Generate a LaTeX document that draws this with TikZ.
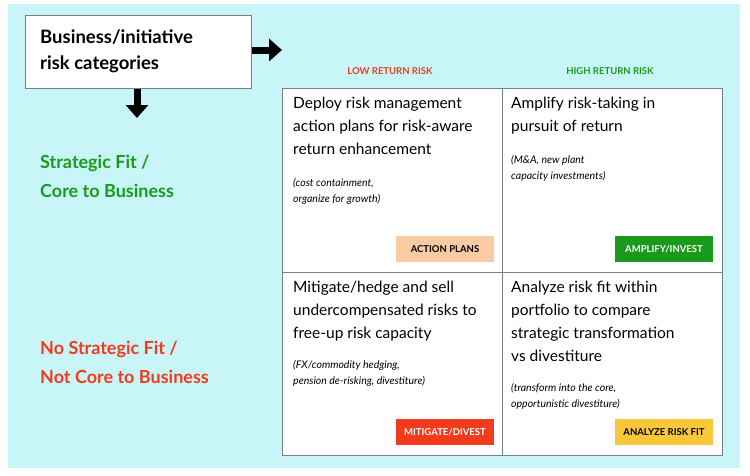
\documentclass[tikz,border=0pt]{standalone}
\usepackage{fontspec}
\setmainfont{Lato}
\usetikzlibrary{arrows.meta}
\definecolor{bgc}{HTML}{C8F6F8}
\definecolor{gr}{HTML}{1A9A1A}
\definecolor{rd}{HTML}{F23A1C}
\definecolor{peach}{HTML}{F8CBA2}
\definecolor{yel}{HTML}{F8C83A}
\definecolor{grd}{HTML}{7A7F80}
\tikzset{x=1pt,y=-1pt,
 main/.style={anchor=north west,align=left,font=\fontsize{15.5}{23}\selectfont,inner sep=0pt},
 sub/.style={anchor=north west,align=left,font=\fontsize{10.5}{16}\selectfont\itshape,inner sep=0pt},
 badge/.style={minimum width=98pt,minimum height=26pt,inner sep=0pt,font=\fontsize{9.5}{10}\selectfont\bfseries},
 hdr/.style={font=\fontsize{9.5}{10}\selectfont\bfseries},
 side/.style={anchor=north west,align=left,font=\fontsize{18}{29}\selectfont\bfseries,inner sep=0pt},
 fat/.style={-{Triangle[length=13pt,width=22pt]},line width=7pt}}
\begin{document}
\begin{tikzpicture}
\useasboundingbox (0,0) rectangle (750,475);
\fill[bgc] (8,4) rectangle (740,468);
\node[draw=grd,fill=white,line width=0.8pt,minimum width=226pt,minimum height=73pt,anchor=north west] (title) at (25,15) {};
\node[anchor=north west,align=left,font=\fontsize{18.5}{26}\selectfont\bfseries,inner sep=0pt] (tt) at (40,30) {Business/initiative\\risk categories};
\coordinate (ra) at (282,50);
\coordinate (da) at (137,118);
\draw[fat] (title.east|-ra) -- (ra);
\draw[fat] (title.south-|da) -- (da);
\draw[grd,fill=white,line width=1pt] (282,88) rectangle (722,455);
\draw[grd,line width=1pt] (502,88) -- (502,455) (282,272) -- (722,272);
\node[hdr,text=rd] (low) at (390,71) {LOW RETURN RISK};
\node[hdr,text=gr] (high) at (610,71) {HIGH RETURN RISK};
\node[side,text=gr] (sf) at (40,155) {Strategic Fit /\\Core to Business};
\node[side,text=rd] (nsf) at (40,341) {No Strategic Fit /\\Not Core to Business};
\node[main] (c1) at (293,97) {Deploy risk management\\action plans for risk-aware\\return enhancement};
\node[sub] (s1) at (293,178) {(cost containment,\\organize for growth)};
\node[main] (c2) at (511,97) {Amplify risk-taking in\\pursuit of return};
\node[sub] (s2) at (511,155) {(M\&A, new plant\\capacity investments)};
\node[main] (c3) at (293,281) {Mitigate/hedge and sell\\undercompensated risks to\\free-up risk capacity};
\node[sub] (s3) at (293,360) {(FX/commodity hedging,\\pension de-risking, divestiture)};
\node[main] (c4) at (511,281) {Analyze risk fit within\\portfolio to compare\\strategic transformation\\vs divestiture};
\node[sub] (s4) at (511,383) {(transform into the core,\\opportunistic divestiture)};
\node[badge,fill=peach] (b1) at (445,249) {ACTION PLANS};
\node[badge,fill=gr,text=white] (b2) at (664,249) {AMPLIFY/INVEST};
\node[badge,fill=rd,text=white] (b3) at (445,432) {MITIGATE/DIVEST};
\node[badge,fill=yel] (b4) at (664,432) {ANALYZE RISK FIT};
\end{tikzpicture}
\end{document}
